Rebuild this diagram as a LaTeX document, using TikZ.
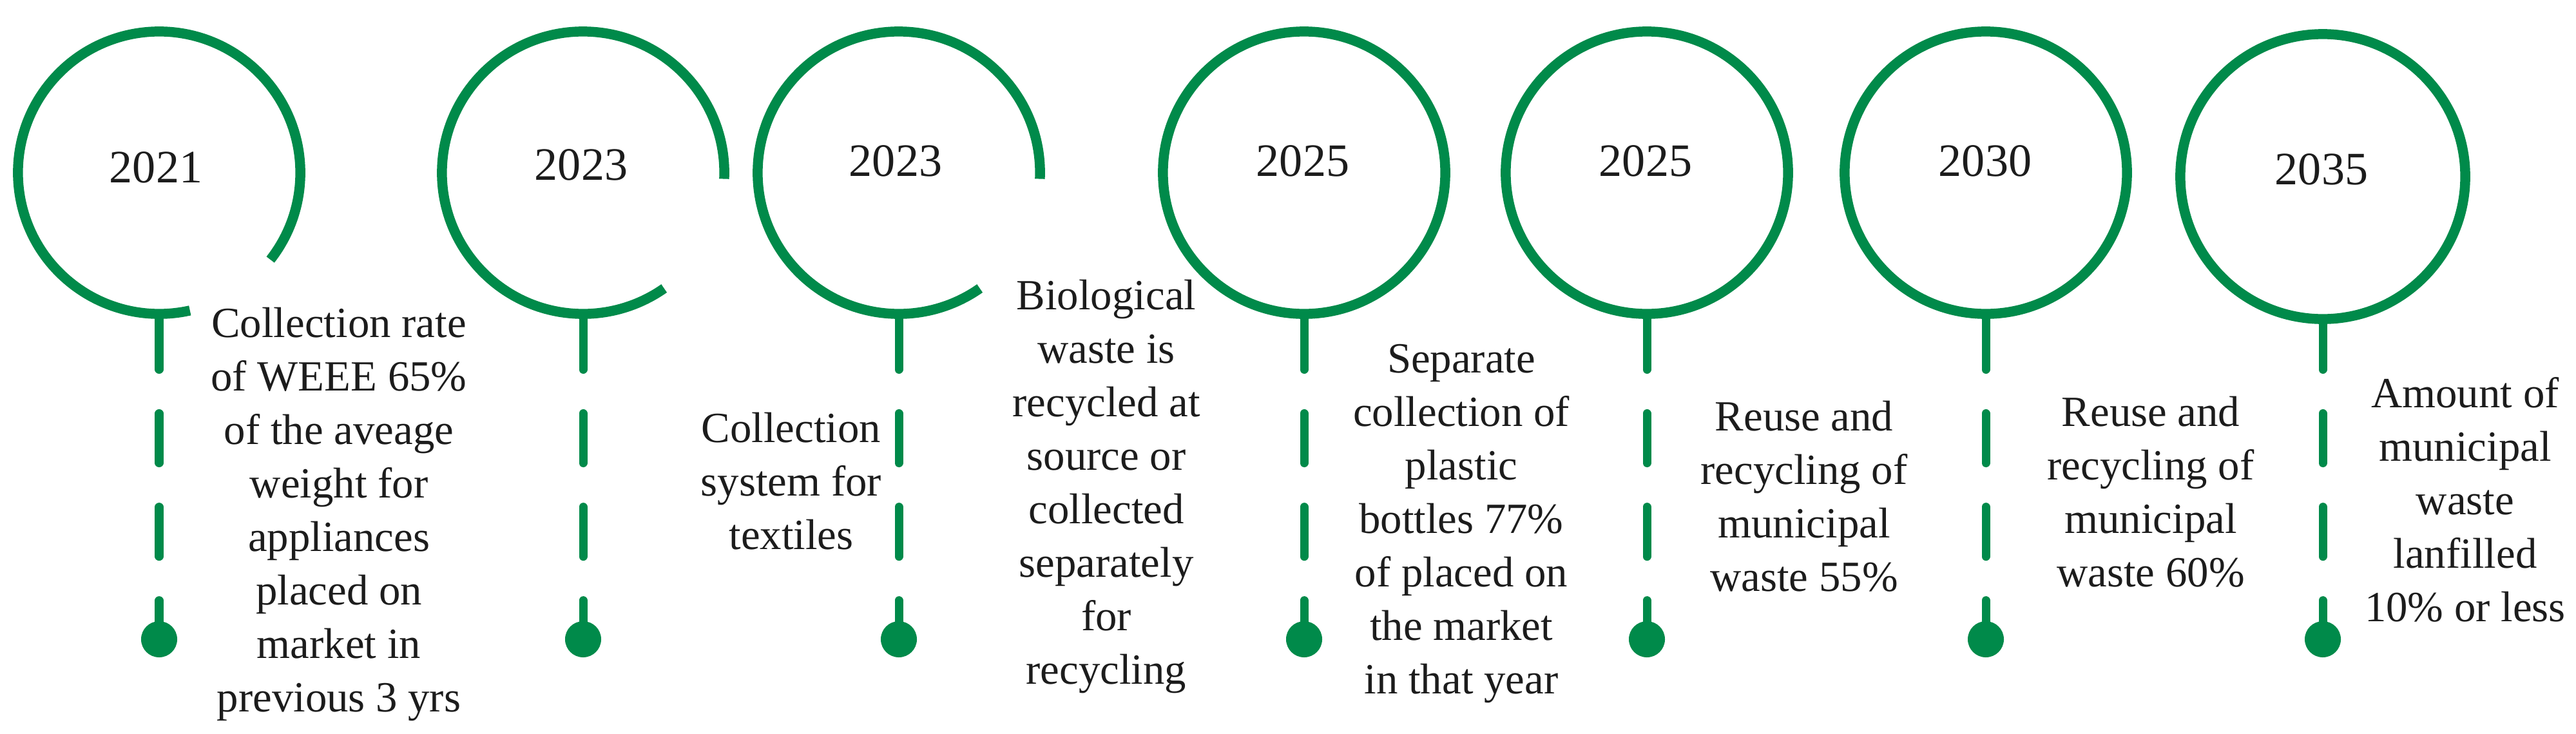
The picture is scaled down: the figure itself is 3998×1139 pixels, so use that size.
\documentclass[tikz,border=0pt]{standalone}
\usepackage{fontspec}
\setmainfont{Liberation Serif}
\definecolor{grn}{RGB}{0,138,74}
\definecolor{ink}{RGB}{28,28,28}
\begin{document}
\begin{tikzpicture}[x=0.01cm,y=-0.01cm,
  ring/.style={draw=grn,line width=4.4pt},
  hub/.style={circle,minimum size=4.38cm,inner sep=0pt,outer sep=0pt},
  stem/.style={draw=grn,line width=3.7pt,line cap=round},
  stemdash/.style={stem,dash pattern=on 0.77cm off 0.68cm},
  dotn/.style={circle,fill=grn,minimum size=0.56cm,inner sep=0pt},
  yr/.style={font=\fontsize{20.5}{24}\selectfont,text=ink,inner sep=0pt},
  txt/.style={font=\fontsize{19}{23.6}\selectfont,text=ink,align=center,inner sep=0pt,anchor=north}]
\useasboundingbox (0,0) rectangle (3998,1139);

% rings
\node[hub] (c1) at (247,268) {};
\draw[ring] ([shift={(-38:2.19cm)}]c1.center) arc[start angle=-38,end angle=282.6,radius=2.19cm];
\node[hub] (c2) at (905,268) {};
\draw[ring] ([shift={(-2.5:2.19cm)}]c2.center) arc[start angle=-2.5,end angle=305,radius=2.19cm];
\node[hub] (c3) at (1395,268) {};
\draw[ring] ([shift={(-2.5:2.19cm)}]c3.center) arc[start angle=-2.5,end angle=305,radius=2.19cm];
\node[hub,ring] (c4) at (2024,268) {};
\node[hub,ring] (c5) at (2556,268) {};
\node[hub,ring] (c6) at (3082,268) {};
\node[hub,ring,minimum size=4.42cm] (c7) at (3605,274) {};

% years
\node[yr] (y1) at (242,260) {2021};
\node[yr] (y2) at (902,256) {2023};
\node[yr] (y3) at (1390,250) {2023};
\node[yr] (y4) at (2022,250) {2025};
\node[yr] (y5) at (2554,250) {2025};
\node[yr] (y6) at (3081,250) {2030};
\node[yr] (y7) at (3603,263) {2035};

% stems and dots
\foreach \i/\x in {1/247,2/905,3/1395,4/2024,5/2556,6/3082,7/3605}{
  \coordinate (s\i) at (\x,573.5);
  \coordinate (t\i) at (\x,641.5);
  \node[dotn] (d\i) at (\x,992) {};
  \draw[stem] (c\i.south) -- (s\i);
  \draw[stemdash] (t\i) -- (d\i.center);
}

% texts
\node[txt] (b1) at (526,476) {Collection rate\\of WEEE 65\%\\of the aveage\\weight for\\appliances\\placed on\\market in\\previous 3 yrs};
\node[txt] (b2) at (1228,639) {Collection\\system for\\textiles};
\node[txt] (b3) at (1717,433) {Biological\\waste is\\recycled at\\source or\\collected\\separately\\for\\recycling};
\node[txt] (b4) at (2268,534) {Separate\\collection of\\plastic\\bottles 77\%\\of placed on\\the market\\in that year};
\node[txt] (b5) at (2800,621) {Reuse and\\recycling of\\municipal\\waste 55\%};
\node[txt] (b6) at (3338,614) {Reuse and\\recycling of\\municipal\\waste 60\%};
\node[txt] (b7) at (3826,585) {Amount of\\municipal\\waste\\lanfilled\\10\% or less};
\end{tikzpicture}
\end{document}
